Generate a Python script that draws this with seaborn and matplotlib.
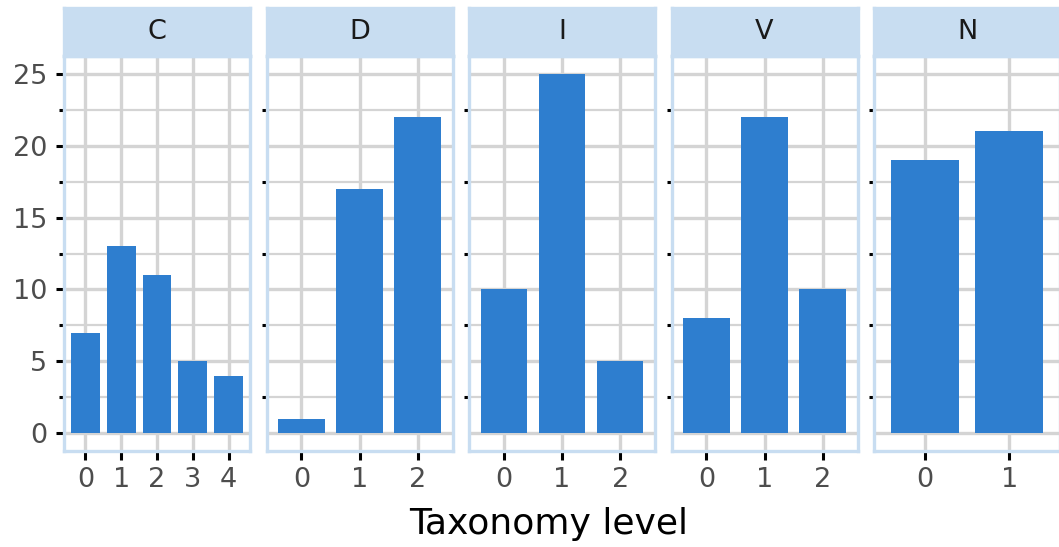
import matplotlib
matplotlib.use("Agg")
import matplotlib.pyplot as plt
import seaborn as sns
import pandas as pd
from matplotlib.ticker import MultipleLocator

# data per facet
panels = ["C", "D", "I", "V", "N"]
c_levels = ["0", "1", "2", "3", "4"]
c_counts = [7, 13, 11, 5, 4]
d_levels = ["0", "1", "2"]
d_counts = [1, 17, 22]
i_levels = ["0", "1", "2"]
i_counts = [10, 25, 5]
v_levels = ["0", "1", "2"]
v_counts = [8, 22, 10]
n_levels = ["0", "1"]
n_counts = [19, 21]

levels = {"C": c_levels, "D": d_levels, "I": i_levels, "V": v_levels, "N": n_levels}
counts = {"C": c_counts, "D": d_counts, "I": i_counts, "V": v_counts, "N": n_counts}

rows = []
for p in panels:
    for lv, c in zip(levels[p], counts[p]):
        rows.append({"panel": p, "level": lv, "count": c})
df = pd.DataFrame(rows)

BAR = "#2E7ECF"
STRIP = "#C8DDF1"
GRID = "#D4D4D4"

sns.set_theme(style="white")
plt.rcParams["font.family"] = ["DejaVu Sans"]

W, H = 1059, 547
fig = plt.figure(figsize=(W / 100, H / 100), dpi=100)

left0 = 64
pitch = 202.5
pw = 186
top_strip = 8
strip_bot = 56
panel_bot = 451

for k, p in enumerate(panels):
    l = left0 + k * pitch
    ax = fig.add_axes([l / W, (H - panel_bot) / H, pw / W, (panel_bot - strip_bot) / H])
    sub = df[df["panel"] == p]
    sns.barplot(data=sub, x="level", y="count", order=levels[p], color=BAR,
                saturation=1, width=0.8, linewidth=0, ax=ax, zorder=2)
    n = len(levels[p])
    ax.set_xlim(-0.6, n - 0.4)
    ax.set_ylim(-1.25, 26.25)
    ax.yaxis.set_major_locator(MultipleLocator(5))
    ax.yaxis.set_minor_locator(MultipleLocator(2.5))
    ax.set_axisbelow(True)
    ax.grid(which="major", axis="both", color=GRID, lw=2.4)
    ax.grid(which="minor", axis="y", color=GRID, lw=1.6)
    for s in ax.spines.values():
        s.set_color(STRIP)
        s.set_linewidth(2.4)
        s.set_zorder(5)
    ax.set_xlabel("")
    ax.set_ylabel("")
    ax.tick_params(axis="x", which="major", length=6.5, width=2.2, color="black",
                   labelsize=19.5, labelcolor="#4D4D4D", pad=5, bottom=True)
    ax.tick_params(axis="y", which="minor", length=3.4, width=2.2, color="black", left=True)
    if k == 0:
        ax.tick_params(axis="y", which="major", length=6, width=2.2, color="black",
                       labelsize=19.5, labelcolor="#4D4D4D", pad=6, left=True)
    else:
        ax.tick_params(axis="y", which="major", length=0, labelleft=False, left=False)

    sax = fig.add_axes([l / W, (H - strip_bot) / H, pw / W, (strip_bot - top_strip) / H])
    sax.set_facecolor(STRIP)
    sax.set_xticks([])
    sax.set_yticks([])
    for s in sax.spines.values():
        s.set_color(STRIP)
        s.set_linewidth(2.4)
    sax.text(0.5, 0.5, p, ha="center", va="center", fontsize=19.5, color="#1A1A1A",
             transform=sax.transAxes)

fig.text(549 / W, (H - 524) / H, "Taxonomy level", ha="center", va="center",
         fontsize=26, color="black")

fig.savefig("out.png", dpi=100)
